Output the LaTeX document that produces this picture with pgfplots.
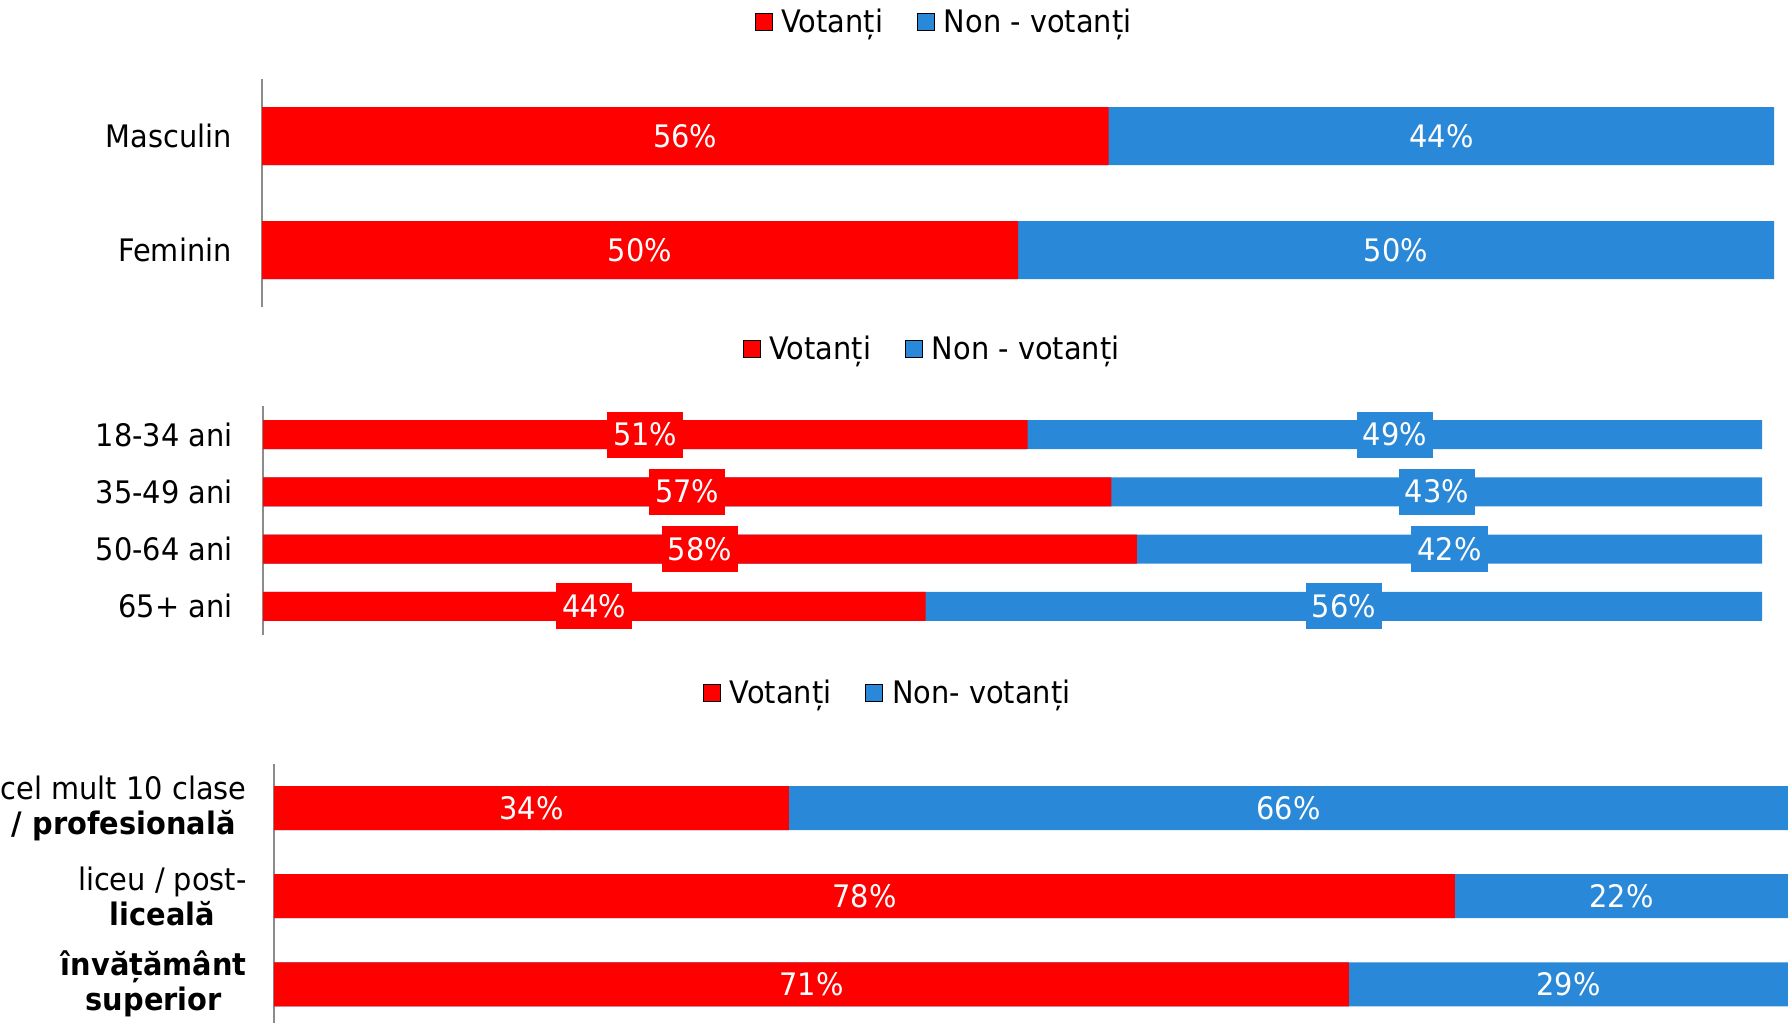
\documentclass[border=0pt]{standalone}
\usepackage{fontspec}
\setmainfont{DejaVu Sans}[FakeStretch=0.93]
\usepackage{pgfplots}
\pgfplotsset{compat=1.18}
\usepackage{pgfplotstable}

\definecolor{vred}{HTML}{FF0000}
\definecolor{vblue}{HTML}{2A88D8}
\definecolor{axgray}{HTML}{8C8C8C}

% pos = row from the top, vot / non = bar lengths, lv / ln = printed labels
\pgfplotstableread{
pos vot non lv ln
0 56 44 56 44
1 50 50 50 50
}\gen
\pgfplotstableread{
pos vot non lv ln
0 51 49 51 49
1 56.6 43.4 57 43
2 58.3 41.7 58 42
3 44.2 55.8 44 56
}\age
\pgfplotstableread{
pos vot non lv ln
0 34 66 34 66
1 78 22 78 22
2 71 29 71 29
}\edu

\pgfplotsset{
  panel/.style={
    scale only axis, anchor=north west,
    xmin=0, xmax=100, y dir=reverse,
    axis x line=none, axis y line=left,
    y axis line style={-, draw=axgray, line width=1pt},
    ytick style={draw=none}, major tick length=0pt,
    yticklabel style={font=\fontsize{15.5}{17.5}\selectfont, align=center, inner sep=0pt, xshift=-15pt},
    legend columns=2,
    legend style={draw=none, fill=none, anchor=center,
      font=\fontsize{15.5}{17}\selectfont,
      /tikz/every even column/.append style={column sep=15pt}},
    legend image code/.code={\fill[##1] (0pt,-4.25pt) rectangle (8.5pt,4.25pt); \path (11pt,0pt);},
  },
  seg/.style={forget plot, xbar, bar shift=0pt, bar width=#1, draw=none},
  lab/.style={forget plot, draw=none, mark=none,
    point meta=explicit symbolic,
    nodes near coords={\pgfplotspointmeta\%},
    every node near coord/.append style={anchor=center, text=white, fill=#1,
      font=\fontsize{15.5}{17}\selectfont, text height=11.5pt, text depth=0.5pt,
      inner xsep=3pt, inner ysep=5.5pt}},
}

\begin{document}
\begin{tikzpicture}
\useasboundingbox (0,0) rectangle (894pt,-511.5pt);

% gen
\begin{axis}[panel, at={(131pt,-39.5pt)}, width=756pt, height=114pt,
  ymin=-0.5, ymax=1.5, ytick={0,1}, yticklabels={Masculin, Feminin},
  legend style={at={(0.4517,1.25)}}]
\addlegendimage{fill=vred}\addlegendentry{Votanți}
\addlegendimage{fill=vblue}\addlegendentry{Non - votanți}
\addplot[seg=29pt, fill=vblue] table[x expr=\thisrow{vot}+\thisrow{non}, y=pos]{\gen};
\addplot[seg=29pt, fill=vred] table[x=vot, y=pos]{\gen};
\addplot[lab=none] table[x expr=\thisrow{vot}/2, y=pos, meta=lv]{\gen};
\addplot[lab=none] table[x expr=\thisrow{vot}+\thisrow{non}/2, y=pos, meta=ln]{\gen};
\end{axis}

% varsta
\begin{axis}[panel, at={(131.5pt,-203pt)}, width=749.5pt, height=114.5pt,
  ymin=-0.5, ymax=3.5, ytick={0,1,2,3},
  yticklabels={18-34 ani, 35-49 ani, 50-64 ani, 65+ ani},
  legend style={at={(0.447,1.249)}}]
\addlegendimage{fill=vred}\addlegendentry{Votanți}
\addlegendimage{fill=vblue}\addlegendentry{Non - votanți}
\addplot[seg=14.5pt, fill=vblue] table[x expr=\thisrow{vot}+\thisrow{non}, y=pos]{\age};
\addplot[seg=14.5pt, fill=vred] table[x=vot, y=pos]{\age};
\addplot[lab=vred] table[x expr=\thisrow{vot}/2, y=pos, meta=lv]{\age};
\addplot[lab=vblue] table[x expr=\thisrow{vot}+\thisrow{non}/2, y=pos, meta=ln]{\age};
\end{axis}

% educatie
\begin{axis}[panel, at={(137pt,-382pt)}, width=757pt, height=129.5pt,
  ymin=-0.5, ymax=2.44, ytick={0,1,2},
  yticklabel style={xshift=1.5pt},
  yticklabels={{cel mult 10 clase\\\textbf{/ profesională}},
               {liceu / post-\\\textbf{liceală}},
               {\textbf{învățământ}\\\textbf{superior}}},
  legend style={at={(0.406,1.274)}}]
\addlegendimage{fill=vred}\addlegendentry{Votanți}
\addlegendimage{fill=vblue}\addlegendentry{Non- votanți}
\addplot[seg=22pt, fill=vblue] table[x expr=\thisrow{vot}+\thisrow{non}, y=pos]{\edu};
\addplot[seg=22pt, fill=vred] table[x=vot, y=pos]{\edu};
\addplot[lab=none] table[x expr=\thisrow{vot}/2, y=pos, meta=lv]{\edu};
\addplot[lab=none] table[x expr=\thisrow{vot}+\thisrow{non}/2, y=pos, meta=ln]{\edu};
\end{axis}
\end{tikzpicture}
\end{document}
